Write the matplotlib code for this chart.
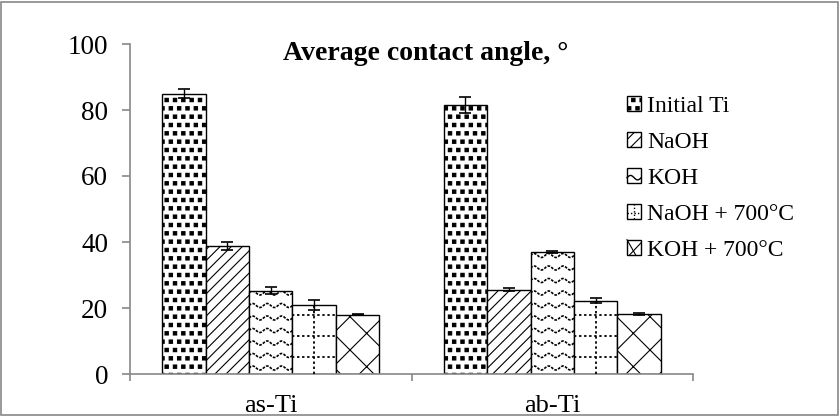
import numpy as np
import matplotlib
matplotlib.use("Agg")
import matplotlib.pyplot as plt
from matplotlib import hatch as mhatch
from matplotlib.path import Path
from matplotlib.lines import Line2D
from matplotlib.transforms import IdentityTransform
from matplotlib.patches import Rectangle
from matplotlib.legend_handler import HandlerBase

# ---- data ----
groups = ["as-Ti", "ab-Ti"]
series = ["Initial Ti", "NaOH", "KOH", "NaOH + 700°C", "KOH + 700°C"]
initial_ti = [85.0, 81.5]
naoh = [38.7, 25.6]
koh = [25.3, 37.0]
naoh_700 = [21.0, 22.2]
koh_700 = [18.0, 18.3]
err_initial_ti = [1.5, 2.5]
err_naoh = [1.2, 0.5]
err_koh = [1.0, 0.3]
err_naoh_700 = [1.5, 0.7]
err_koh_700 = [0.2, 0.3]
yticks = [0, 20, 40, 60, 80, 100]
title = "Average contact angle, °"

values = [initial_ti, naoh, koh, naoh_700, koh_700]
errors = [err_initial_ti, err_naoh, err_koh, err_naoh_700, err_koh_700]

# filled squares hatch for '.'
class SmallFilledSquares(mhatch.Shapes):
    size = 0.2
    filled = True
    shape_vertices = np.array([[-1, -1], [1, -1], [1, 1], [-1, 1], [-1, -1]], float)
    shape_codes = np.array([Path.MOVETO, Path.LINETO, Path.LINETO, Path.LINETO, Path.CLOSEPOLY])
    def __init__(self, hatch, density):
        self.num_rows = (hatch.count('.')) * density
        super().__init__(hatch, density)
mhatch._hatch_types = [SmallFilledSquares if c is mhatch.SmallFilledCircles else c
                       for c in mhatch._hatch_types]

plt.rcParams['font.family'] = ['Liberation Serif', 'DejaVu Serif']
plt.rcParams['hatch.linewidth'] = 0.8
plt.rcParams['hatch.color'] = 'black'

fig = plt.figure(figsize=(8.4, 4.16), dpi=100)
ax = fig.add_axes([130/840, 42/416, 563/840, 330/416])

x = np.arange(len(groups))
width = 0.1545
hatches = ['..', '///', '', '', 'x']
bars_all = []
for i, (vals, errs) in enumerate(zip(values, errors)):
    pos = x + (i - 2) * width
    bars = ax.bar(pos, vals, width, color='white', edgecolor='black', linewidth=1.0,
                  hatch=hatches[i], label=series[i], zorder=2)
    ax.errorbar(pos, vals, yerr=errs, fmt='none', ecolor='black', elinewidth=1.0,
                capsize=4, capthick=1.2, zorder=4)
    bars_all.append(bars)

ax.set_xlim(-0.5, 1.5)
ax.set_ylim(0, 100)
ax.set_yticks(yticks)
ax.set_xticks(x)
ax.set_xticklabels(groups)
ax.set_xticks([-0.5, 0.5, 1.5], minor=True)
ax.tick_params(axis='x', which='major', length=0, labelsize=19, pad=15)
ax.tick_params(axis='x', which='minor', length=5, color='#888888', direction='out', width=1.2)
ax.tick_params(axis='y', length=5.8, color='#888888', labelsize=19.5, pad=10, width=1.2)
for s in ['top', 'right']:
    ax.spines[s].set_visible(False)
for s in ['left', 'bottom']:
    ax.spines[s].set_color('#888888')
    ax.spines[s].set_linewidth(1.2)

fig.text(426/840, 1 - 53/416, title, ha='center', va='center',
         fontsize=20, fontweight='bold')

fig.canvas.draw()

# custom patterns: wavy lines (KOH), dotted grid (NaOH + 700°C)
def bar_px(b):
    bb = b.get_window_extent()
    return bb.x0, bb.x1, bb.y0, bb.y1

WAVE_LS = (0, (1.6, 0.8))
DOT_LS = (0, (1.3, 1.5))

for b in bars_all[2]:
    x0, x1, y0, y1 = bar_px(b)
    xs = np.linspace(x0, x1, 80)
    yy = y0 + 6
    while yy < y1 + 4:
        ys = yy + 2.0 * np.sin((xs - x0) / 14.5 * 2 * np.pi)
        ln = Line2D(xs, ys, transform=IdentityTransform(), color='black', lw=1.2,
                    ls=WAVE_LS, zorder=3)
        ln.set_clip_path(b)
        fig.add_artist(ln)
        yy += 12.5

for b in bars_all[3]:
    x0, x1, y0, y1 = bar_px(b)
    xm = (x0 + x1) / 2
    ln = Line2D([xm, xm], [y0, y1], transform=IdentityTransform(), color='black',
                lw=1.3, ls=DOT_LS, zorder=3)
    ln.set_clip_path(b)
    fig.add_artist(ln)
    yy = y0 + 17
    while yy < y1 - 2:
        ln = Line2D([x0, x1], [yy, yy], transform=IdentityTransform(), color='black',
                    lw=1.3, ls=DOT_LS, zorder=3)
        ln.set_clip_path(b)
        fig.add_artist(ln)
        yy += 21


def _box(xdescent, ydescent, width, height, trans):
    return Rectangle((-xdescent, -ydescent), width, height, facecolor='white',
                     edgecolor='black', lw=1.0, transform=trans)


class HandlerWave(HandlerBase):
    def create_artists(self, legend, orig_handle, xdescent, ydescent, width, height,
                       fontsize, trans):
        r = _box(xdescent, ydescent, width, height, trans)
        xs = np.linspace(-xdescent, -xdescent + width, 20)
        ys = -ydescent + height * 0.35 + height * 0.15 * np.sin((xs + xdescent) / width * 2 * np.pi)
        ln = Line2D(xs, ys, color='black', lw=1.0, transform=trans)
        return [r, ln]


class HandlerDots(HandlerBase):
    def create_artists(self, legend, orig_handle, xdescent, ydescent, width, height,
                       fontsize, trans):
        r = _box(xdescent, ydescent, width, height, trans)
        xm = -xdescent + width * 0.5
        ln1 = Line2D([xm, xm], [-ydescent, -ydescent + height], color='black', lw=1.0,
                     ls=(0, (1, 1.5)), transform=trans)
        ym = -ydescent + height * 0.4
        ln2 = Line2D([-xdescent, -xdescent + width], [ym, ym], color='black', lw=1.0,
                     ls=(0, (1, 1.5)), transform=trans)
        return [r, ln1, ln2]


class HandlerCross(HandlerBase):
    def create_artists(self, legend, orig_handle, xdescent, ydescent, width, height,
                       fontsize, trans):
        r = _box(xdescent, ydescent, width, height, trans)
        x0, y0 = -xdescent, -ydescent
        ln1 = Line2D([x0, x0 + width * 0.6], [y0 + height, y0], color='black', lw=0.8,
                     transform=trans)
        ln2 = Line2D([x0 + width * 0.2, x0 + width], [y0, y0 + height * 0.8], color='black',
                     lw=0.8, transform=trans)
        return [r, ln1, ln2]


leg = fig.legend(handles=bars_all, labels=series,
                 handler_map={bars_all[2]: HandlerWave(), bars_all[3]: HandlerDots(),
                              bars_all[4]: HandlerCross()},
                 loc='upper left', bbox_to_anchor=(627/840, 1 - 96/416), frameon=False,
                 fontsize=17, handlelength=0.6, handleheight=0.6, handletextpad=0.25,
                 labelspacing=0.63, borderpad=0, borderaxespad=0)

fig.add_artist(Rectangle((1/840, 1/416), 837/840, 413/416, transform=fig.transFigure,
                         fill=False, edgecolor='#888888', lw=1.2))

fig.savefig('out.png', dpi=100)
